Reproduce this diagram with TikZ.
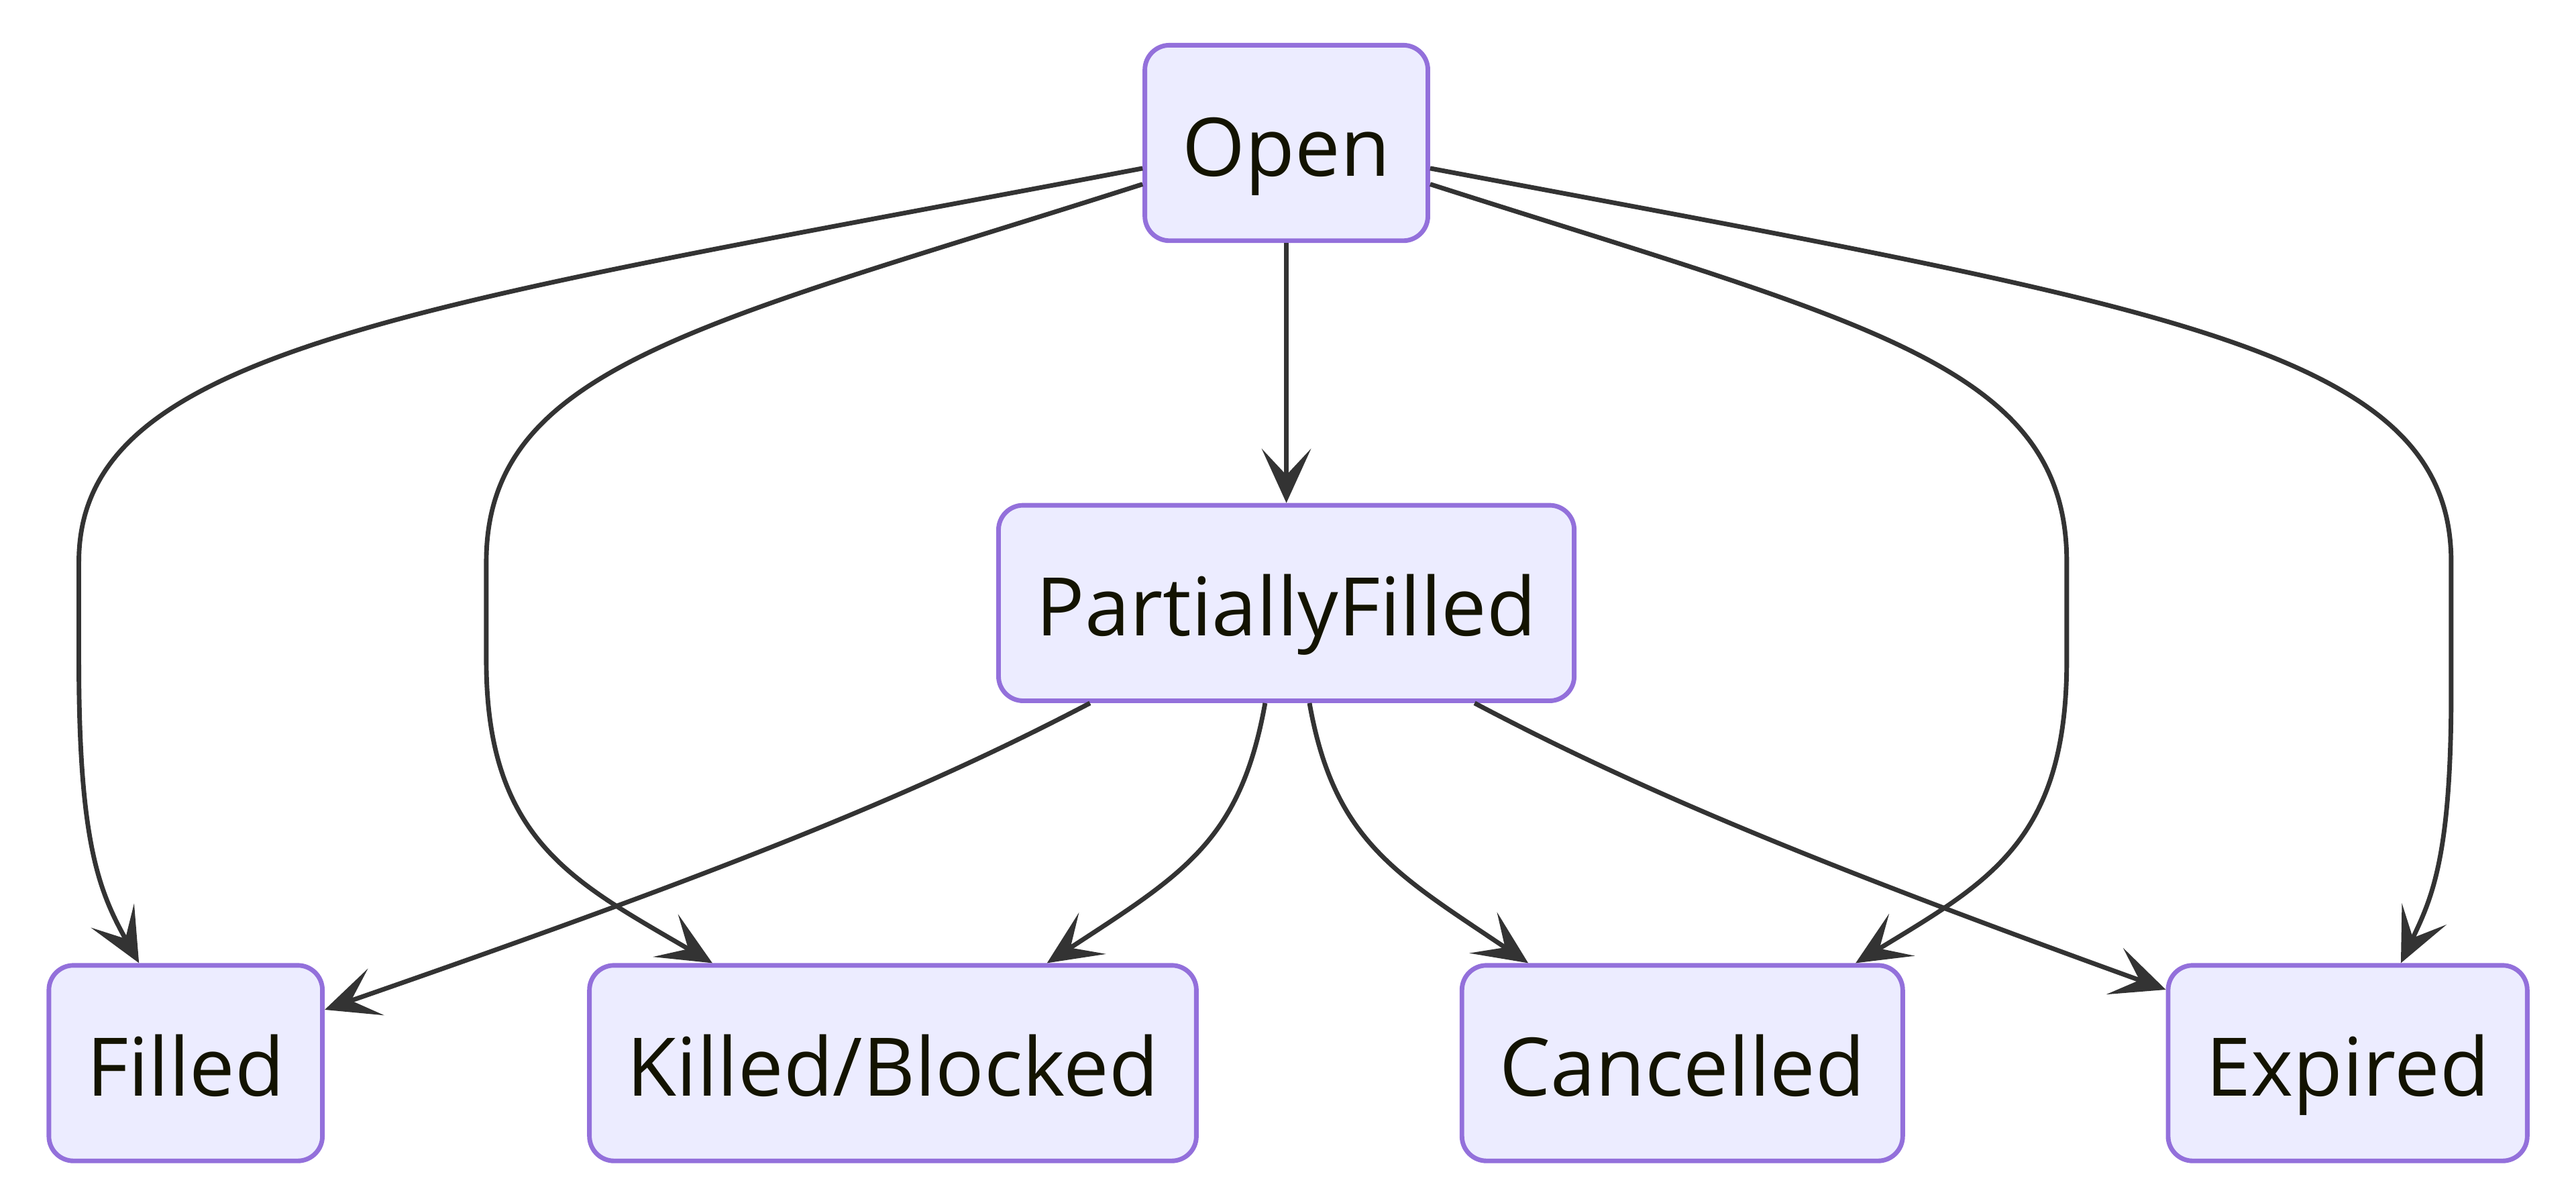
\documentclass[tikz,border=0pt]{standalone}
\usepackage{xcolor}
\usepackage{fontspec}
\setmainfont{Open Sans}
\usetikzlibrary{arrows.meta}

\definecolor{statefill}{HTML}{ECECFF}
\definecolor{stateline}{HTML}{9370DB}
\definecolor{statetext}{HTML}{131300}
\definecolor{edgeline}{HTML}{333333}

\begin{document}
\begin{tikzpicture}[node distance=2.8cm,
    state/.style={rectangle, rounded corners=0.15cm, draw=stateline, fill=statefill, line width=0.8pt,
        text=statetext, font=\fontsize{14pt}{17pt}\selectfont, minimum height=1.19cm,
        inner xsep=0.23cm, text height=0.4cm, text depth=0pt},
    link/.style={->, draw=edgeline, line width=0.8pt},
    >={Stealth[length=3.3mm, width=3mm, inset=1.6mm]}]
    \useasboundingbox (0,0) rectangle (15.68,7.32);
    \node[state] (open) at (7.83,6.45) {Open};
    \node[state, below of=open] (pf) {PartiallyFilled};
    \node[state, below of=pf, xshift=-6.7cm] (filled) {Filled};
    \node[state, below of=pf, xshift=-2.395cm] (killed) {Killed/Blocked};
    \node[state, below of=pf, xshift=2.41cm] (cancelled) {Cancelled};
    \node[state, below of=pf, xshift=6.46cm] (expired) {Expired};
    % from Open
    \draw[link] (open.190) .. controls (2.5,5.45) and (0.48,5.2) .. (0.48,3.9) -- (0.48,3.3)
        .. controls (0.48,2.2) and (0.6,1.9) .. (filled.115);
    \draw[link] (open.196) .. controls (4.3,5.35) and (2.96,5.1) .. (2.96,3.9) -- (2.96,3.3)
        .. controls (2.96,2.2) and (3.5,1.95) .. (killed.151);
    \draw[link] (open) -- (pf);
    \draw[link] (open.-16) .. controls (11.36,5.35) and (12.58,5.1) .. (12.58,3.9) -- (12.58,3.3)
        .. controls (12.58,2.2) and (12.1,1.95) .. (cancelled.30);
    \draw[link] (open.-10) .. controls (13.2,5.45) and (14.92,5.2) .. (14.92,3.9) -- (14.92,3.1)
        .. controls (14.92,2.1) and (14.8,1.85) .. (expired.62);
    % from PartiallyFilled
    \draw[link] (pf.-153) .. controls (5.6,2.5) and (4.5,2.05) .. (filled.21);
    \draw[link] (pf.-102) .. controls (7.55,2.2) and (7.2,2.0) .. (killed.33);
    \draw[link] (pf.-77) .. controls (8.12,2.2) and (8.5,2.0) .. (cancelled.147);
    \draw[link] (pf.-28) .. controls (10.0,2.5) and (11.1,2.05) .. (expired.158);
\end{tikzpicture}
\end{document}
